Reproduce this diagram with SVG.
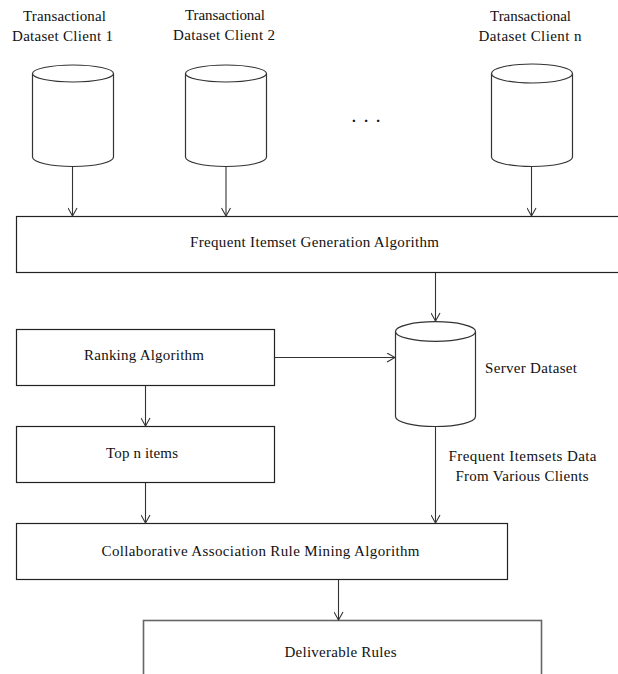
<svg xmlns="http://www.w3.org/2000/svg" width="618" height="674" viewBox="0 0 618 674">
<style>
  .box { fill: #fff; stroke: #222; stroke-width: 1.2; }
  .cyl { fill: #fff; stroke: #333; stroke-width: 1.2; }
  .lbl { font-family: "Liberation Serif", "Times New Roman", serif; font-size: 15px; fill: #111; }
  .conn { stroke: #333; stroke-width: 1.1; fill: none; marker-end: url(#arr); }
</style>
<defs>
  <marker id="arr" viewBox="0 0 10 10" refX="9" refY="5" markerWidth="10" markerHeight="10" markerUnits="userSpaceOnUse" orient="auto">
    <path d="M1,0.5 L9,5 L1,9.5" fill="none" stroke="#333" stroke-width="1.1"/>
  </marker>
</defs>
<rect width="618" height="674" fill="#fff"/>

<g id="client1">
  <path class="cyl" d="M32.5,73.5 L32.5,157 A40.5,9.5 0 0 0 113.5,157 L113.5,73.5"/>
  <ellipse class="cyl" cx="73" cy="73.5" rx="40.5" ry="8.5"/>
  <text class="lbl" x="64.5" y="21" text-anchor="middle" textLength="83" lengthAdjust="spacing">Transactional</text>
  <text class="lbl" x="62.5" y="41" text-anchor="middle" textLength="101" lengthAdjust="spacing">Dataset Client 1</text>
</g>
<g id="client2">
  <path class="cyl" d="M185.5,73.5 L185.5,157 A40.5,9.5 0 0 0 266.5,157 L266.5,73.5"/>
  <ellipse class="cyl" cx="226" cy="73.5" rx="40.5" ry="8.5"/>
  <text class="lbl" x="225" y="19.5" text-anchor="middle" textLength="80" lengthAdjust="spacing">Transactional</text>
  <text class="lbl" x="224" y="39.5" text-anchor="middle" textLength="102" lengthAdjust="spacing">Dataset Client 2</text>
</g>
<g id="dots">
  <text class="lbl" x="366" y="122" text-anchor="middle" font-size="18" font-weight="bold" textLength="28" lengthAdjust="spacing">. . .</text>
</g>
<g id="clientn">
  <path class="cyl" d="M491.5,73.5 L491.5,157 A40.5,9.5 0 0 0 572.5,157 L572.5,73.5"/>
  <ellipse class="cyl" cx="532" cy="73.5" rx="40.5" ry="9.5"/>
  <text class="lbl" x="530.5" y="21" text-anchor="middle" textLength="81" lengthAdjust="spacing">Transactional</text>
  <text class="lbl" x="530" y="41" text-anchor="middle" textLength="103" lengthAdjust="spacing">Dataset Client n</text>
</g>

<g id="fig">
  <rect class="box" x="16.5" y="216.5" width="620" height="56"/>
  <text class="lbl" x="314.5" y="246.5" text-anchor="middle" textLength="249" lengthAdjust="spacing">Frequent Itemset Generation Algorithm</text>
</g>

<g id="server">
  <path class="cyl" d="M395.5,331.5 L395.5,416.5 A40,10 0 0 0 475.5,416.5 L475.5,331.5"/>
  <ellipse class="cyl" cx="435.5" cy="331.5" rx="40" ry="9.8"/>
  <text class="lbl" x="485" y="373" textLength="92" lengthAdjust="spacing">Server Dataset</text>
</g>

<g id="ranking">
  <rect class="box" x="16.5" y="329.5" width="258" height="56"/>
  <text class="lbl" x="144" y="360" text-anchor="middle" textLength="120" lengthAdjust="spacing">Ranking Algorithm</text>
</g>

<g id="topn">
  <rect class="box" x="16.5" y="426.5" width="258" height="56"/>
  <text class="lbl" x="142" y="458" text-anchor="middle" textLength="72" lengthAdjust="spacing">Top n items</text>
</g>

<g id="collab">
  <rect class="box" x="16.5" y="523.5" width="491" height="56"/>
  <text class="lbl" x="260.5" y="555.5" text-anchor="middle" textLength="318" lengthAdjust="spacing">Collaborative Association Rule Mining Algorithm</text>
</g>

<g id="deliverable">
  <rect x="143.5" y="620.5" width="398" height="80" fill="#fff" stroke="#666" stroke-width="1.6"/>
  <text class="lbl" x="340.5" y="657" text-anchor="middle" textLength="112" lengthAdjust="spacing">Deliverable Rules</text>
</g>

<g id="edge-label">
  <text class="lbl" x="522.5" y="460.5" text-anchor="middle" textLength="148" lengthAdjust="spacing">Frequent Itemsets Data</text>
  <text class="lbl" x="522" y="480.5" text-anchor="middle" textLength="133" lengthAdjust="spacing">From Various Clients</text>
</g>

<g id="connectors">
  <line class="conn" x1="72.5" y1="167" x2="72.5" y2="216"/>
  <line class="conn" x1="226" y1="167" x2="226" y2="216"/>
  <line class="conn" x1="531.5" y1="167" x2="531.5" y2="216"/>
  <line class="conn" x1="435.5" y1="273" x2="435.5" y2="321"/>
  <line class="conn" x1="274.5" y1="357.5" x2="395" y2="357.5"/>
  <line class="conn" x1="145.5" y1="386" x2="145.5" y2="426"/>
  <line class="conn" x1="145.5" y1="483" x2="145.5" y2="523"/>
  <line class="conn" x1="435.5" y1="426.5" x2="435.5" y2="523"/>
  <line class="conn" x1="338.5" y1="580" x2="338.5" y2="620"/>
</g>
</svg>
